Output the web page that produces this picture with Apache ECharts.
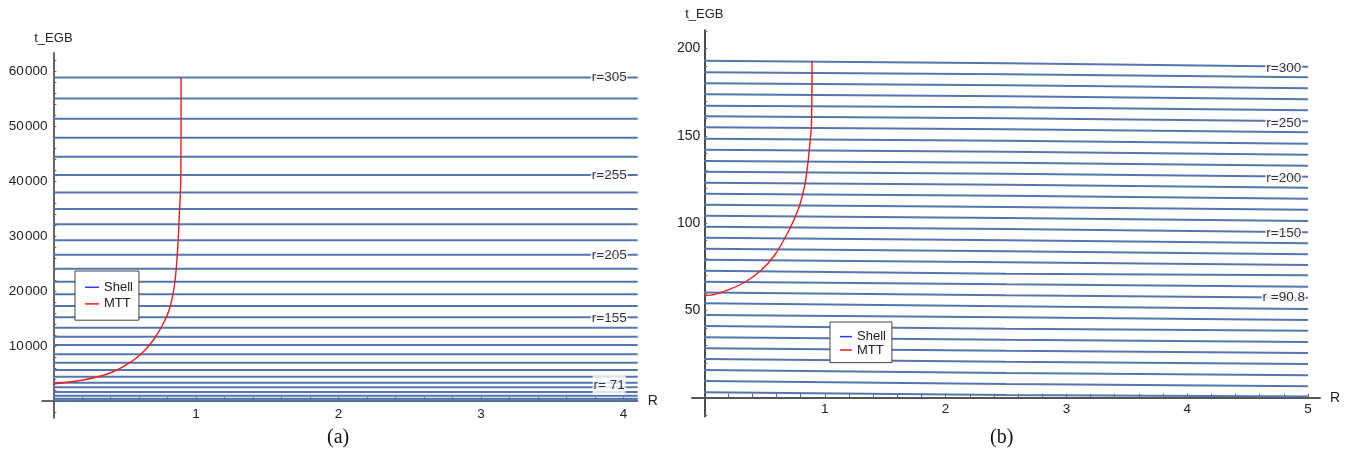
<!DOCTYPE html>
<html>
<head>
<meta charset="utf-8">
<script src="https://cdn.jsdelivr.net/npm/echarts@6/dist/echarts.min.js"></script>
<style>
html,body{margin:0;padding:0;background:#fff;}
#chart{width:1347px;height:456px;}
</style>
</head>
<body>
<div id="chart"></div>
<script>
// ---------- Panel (a) data ----------
const shellA_t = [58855, 55036, 51327, 47873, 44418, 41091, 37945, 34909, 32127, 29218,
  26600, 24055, 21690, 19400, 17273, 15218, 13327, 11690, 10180, 8490,
  6960, 5636, 4418, 3327, 2500, 1650, 950, 420, 120];
const mttA_R = [0, 0.21, 0.375, 0.491, 0.608, 0.702, 0.772, 0.819, 0.854, 0.873, 0.884, 0.894, 0.896];
const mttA_t = [3091, 3818, 4855, 6236, 8364, 11091, 14127, 17145, 22000, 28055, 34127, 40182, 58909];
const labelsA_text = ['r=305', 'r=255', 'r=205', 'r=155', 'r= 71'];
const labelsA_t = [58855, 41091, 26500, 15100, 2909];
const xLabelsA = [1, 2, 3, 4];
const yLabelsA = [10000, 20000, 30000, 40000, 50000, 60000];

// ---------- Panel (b) data ----------
const shellB_R = [0, 2.5, 5];
const shellB_t0 = [193.0, 186.4, 180.1, 173.8, 167.2, 161.2, 154.9, 148.3, 142.0, 135.6,
  129.4, 123.1, 116.8, 110.5, 104.2, 97.9, 91.6, 85.3, 79.0, 72.7,
  66.4, 60.3, 54.1, 47.4, 41.1, 34.6, 28.3, 22.2, 15.9, 9.6, 3.1];
const shellB_tMid = [191.5, 185.2, 178.9, 172.6, 166.3, 160.0, 153.7, 147.2, 140.9, 134.6,
  128.3, 122.0, 115.7, 109.2, 102.9, 96.6, 90.1, 83.8, 77.5, 71.0,
  64.9, 58.6, 52.3, 46.0, 39.5, 33.2, 26.9, 20.6, 14.1, 7.8, 1.5];
const shellB_t5 = [189.6, 183.5, 177.2, 170.9, 164.6, 158.3, 152.0, 145.5, 139.2, 132.9,
  126.6, 120.3, 114.0, 107.7, 101.2, 94.7, 88.4, 82.1, 76.0, 70.1,
  63.6, 57.3, 50.8, 44.5, 38.4, 31.9, 25.6, 19.3, 12.8, 6.5, 0.6];
const mttB_R = [0, 0.089, 0.199, 0.337, 0.475, 0.585, 0.668, 0.737, 0.792, 0.834, 0.861, 0.875, 0.889, 0.894];
const mttB_t = [58.4, 59.2, 61.7, 66.1, 73.1, 81.7, 91.3, 100.8, 110.4, 121.8, 135.2, 144.7, 156.2, 193.0];
const labelsB_text = ['r=300', 'r=250', 'r=200', 'r=150', 'r =90.8'];
const labelsB_t = [188.7, 157.2, 125.7, 94.2, 57.3];
const xLabelsB = [1, 2, 3, 4, 5];
const yLabelsB = [50, 100, 150, 200];

// ---------- styling / layout ----------
const FONT = '"Liberation Sans", Arial, sans-serif';
const SHELL_COLOR = '#5476af';
const MTT_COLOR = '#ee1c1c';
const R_END_A = 4.1;
const LABEL_R_A = 3.9;
const LABEL_R_B = 4.8;

function range(a, b, step, skipZero) {
  const out = [];
  const n = Math.round((b - a) / step);
  for (let i = 0; i <= n; i++) {
    const v = +(a + i * step).toFixed(6);
    if (skipZero && Math.abs(v) < 1e-9) continue;
    out.push(v);
  }
  return out;
}

const series = [];
shellA_t.forEach(function (t) {
  series.push({
    type: 'line', name: 'Shell', xAxisIndex: 0, yAxisIndex: 0,
    data: [[0, t], [R_END_A, t]], showSymbol: false, silent: true,
    lineStyle: { color: SHELL_COLOR, width: 2 }, itemStyle: { color: SHELL_COLOR }, z: 2
  });
});
series.push({
  type: 'line', name: 'MTT', xAxisIndex: 0, yAxisIndex: 0,
  data: mttA_R.map(function (r, i) { return [r, mttA_t[i]]; }),
  showSymbol: false, silent: true, smooth: 0.3,
  lineStyle: { color: MTT_COLOR, width: 1.4 }, itemStyle: { color: MTT_COLOR }, z: 3
});
series.push({
  type: 'scatter', xAxisIndex: 0, yAxisIndex: 0, silent: true, symbolSize: 1,
  itemStyle: { color: 'rgba(0,0,0,0)' }, z: 10,
  data: labelsA_text.map(function (s, i) {
    return { value: [LABEL_R_A, labelsA_t[i], s],
      label: { padding: s === 'r= 71' ? [3, 1, 2, 1] : [0, 1, 0, 1] } };
  }),
  label: { show: true, position: 'inside', formatter: function (p) { return p.value[2]; },
    backgroundColor: '#fff', color: '#000', textBorderWidth: 0, fontSize: 13.5, fontFamily: FONT }
});

shellB_t0.forEach(function (t, i) {
  const ts = [t, shellB_tMid[i], shellB_t5[i]];
  series.push({
    type: 'line', name: 'Shell', xAxisIndex: 1, yAxisIndex: 1,
    data: shellB_R.map(function (r, k) { return [r, ts[k]]; }),
    showSymbol: false, silent: true,
    lineStyle: { color: SHELL_COLOR, width: 2 }, itemStyle: { color: SHELL_COLOR }, z: 2
  });
});
series.push({
  type: 'line', name: 'MTT', xAxisIndex: 1, yAxisIndex: 1,
  data: mttB_R.map(function (r, i) { return [r, mttB_t[i]]; }),
  showSymbol: false, silent: true, smooth: 0.3,
  lineStyle: { color: MTT_COLOR, width: 1.4 }, itemStyle: { color: MTT_COLOR }, z: 3
});
series.push({
  type: 'scatter', xAxisIndex: 1, yAxisIndex: 1, silent: true, symbolSize: 1,
  itemStyle: { color: 'rgba(0,0,0,0)' }, z: 10,
  data: labelsB_text.map(function (s, i) { return [LABEL_R_B, labelsB_t[i], s]; }),
  label: { show: true, position: 'inside', formatter: function (p) { return p.value[2]; },
    backgroundColor: '#fff', color: '#000', textBorderWidth: 0, fontSize: 13.5, fontFamily: FONT, padding: [0, 1, 0, 1] }
});

function thousands(v) {
  const s = String(v);
  return s.length > 3 ? s.slice(0, s.length - 3) + '\u200a' + s.slice(-3) : s;
}

const legendCommon = {
  orient: 'vertical', icon: 'rect', itemGap: 0,
  borderColor: '#444', borderWidth: 1, backgroundColor: '#fff', selectedMode: false,
  data: [
    { name: 'Shell', itemStyle: { color: '#2b3cf2' } },
    { name: 'MTT', itemStyle: { color: '#f01818' } }
  ]
};

// grid A: R in [-0.08, 4.1] -> x 42..637.7 ; t in [-3100, 63300] -> y 418..53 (zero at x 53.4 / y 401)
// grid B: R in [-0.1, 5.1] -> x 692..1320 ; t in [-10.9, 210.6] -> y 416.7..30 (zero at x 704.3 / y 397.7)
const option = {
  animation: false,
  backgroundColor: '#fff',
  textStyle: { fontFamily: FONT },
  grid: [
    { left: 42, top: 53, width: 595.7, height: 365, outerBoundsMode: 'none', containLabel: false },
    { left: 692, top: 30, width: 628, height: 386.7, outerBoundsMode: 'none', containLabel: false }
  ],
  xAxis: [
    {
      type: 'value', gridIndex: 0, min: -0.08, max: R_END_A, position: 'bottom', offset: -17,
      name: 'R', nameLocation: 'end', nameGap: 10,
      nameTextStyle: { fontSize: 14, color: '#222', fontFamily: FONT },
      axisLine: { onZero: false, lineStyle: { color: '#333', width: 1.5 } },
      axisTick: { show: true, inside: true, length: 4, customValues: range(0.2, 4.0, 0.2),
        lineStyle: { color: '#666' } },
      axisLabel: { customValues: xLabelsA, margin: 6, fontSize: 13.5, color: '#222', fontFamily: FONT },
      splitLine: { show: false }
    },
    {
      type: 'value', gridIndex: 1, min: -0.1, max: 5.1, position: 'bottom', offset: -19,
      name: 'R', nameLocation: 'end', nameGap: 10,
      nameTextStyle: { fontSize: 14, color: '#222', fontFamily: FONT },
      axisLine: { onZero: false, lineStyle: { color: '#555', width: 2 } },
      axisTick: { show: true, inside: true, length: 4, customValues: range(0.2, 5.0, 0.2),
        lineStyle: { color: '#666' } },
      axisLabel: { customValues: xLabelsB, margin: 5, fontSize: 13.5, color: '#222', fontFamily: FONT },
      splitLine: { show: false }
    }
  ],
  yAxis: [
    {
      type: 'value', gridIndex: 0, min: -3100, max: 63300, position: 'left', offset: -11.4,
      name: 't_EGB', nameLocation: 'end', nameGap: 8,
      nameTextStyle: { fontSize: 13, color: '#222', fontFamily: FONT, align: 'center' },
      axisLine: { onZero: false, lineStyle: { color: '#666', width: 2 } },
      axisTick: { show: true, inside: true, length: 3, customValues: range(-2000, 62000, 2000, true),
        lineStyle: { color: '#666' } },
      axisLabel: { customValues: yLabelsA, margin: 6, fontSize: 13.5, color: '#222', fontFamily: FONT,
        formatter: thousands },
      splitLine: { show: false }
    },
    {
      type: 'value', gridIndex: 1, min: -10.9, max: 210.6, position: 'left', offset: -12.3,
      name: 't_EGB', nameLocation: 'end', nameGap: 9,
      nameTextStyle: { fontSize: 13, color: '#222', fontFamily: FONT, align: 'center' },
      axisLine: { onZero: false, lineStyle: { color: '#111', width: 1.5 } },
      axisTick: { show: true, inside: true, length: 3, customValues: range(-10, 210, 10, true),
        lineStyle: { color: '#666' } },
      axisLabel: { customValues: yLabelsB, margin: 4, fontSize: 14, color: '#222', fontFamily: FONT },
      splitLine: { show: false }
    }
  ],
  legend: [
    Object.assign({}, legendCommon, {
      left: 75, top: 271, padding: [8, 6, 8, 10], itemWidth: 14, itemHeight: 1.5,
      textStyle: { fontSize: 13, lineHeight: 16.6, color: '#222', fontFamily: FONT }
    }),
    Object.assign({}, legendCommon, {
      left: 830, top: 322, padding: [8, 6, 6, 10], itemWidth: 12, itemHeight: 1.5,
      textStyle: { fontSize: 13, lineHeight: 13.3, color: '#222', fontFamily: FONT }
    })
  ],
  graphic: [
    { type: 'text', left: 327, top: 428, style: { text: '(a)', font: '20px "Liberation Serif", "Times New Roman", serif', fill: '#111' } },
    { type: 'text', left: 990, top: 428, style: { text: '(b)', font: '20px "Liberation Serif", "Times New Roman", serif', fill: '#111' } }
  ],
  series: series
};

const chart = echarts.init(document.getElementById('chart'), null, { renderer: 'canvas' });
chart.setOption(option);
</script>
</body>
</html>
